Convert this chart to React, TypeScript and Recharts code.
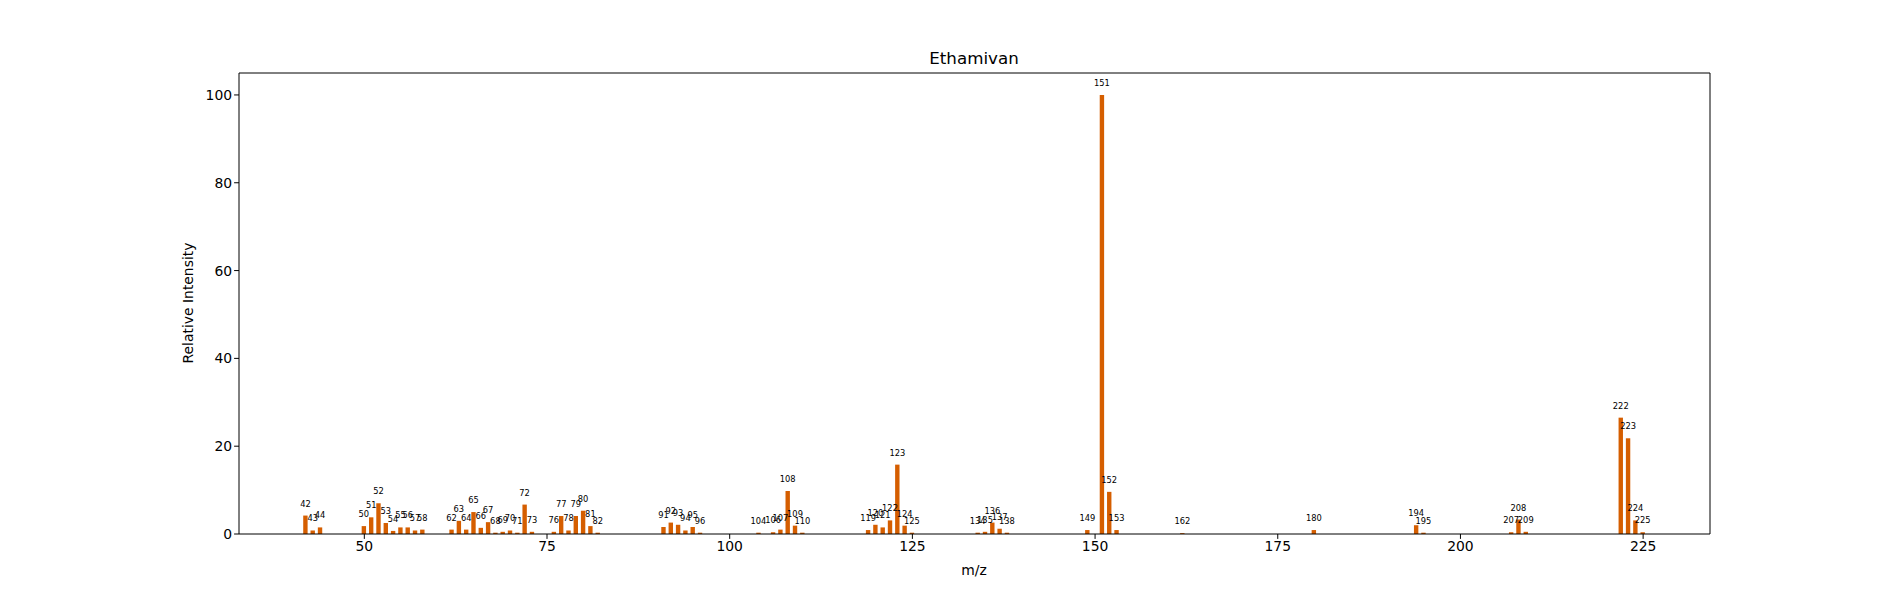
import { BarChart, Bar, XAxis, YAxis, LabelList, ReferenceLine } from 'recharts';

const mzValues = [
  42, 43, 44, 50, 51, 52, 53, 54, 55, 56, 57, 58, 62, 63, 64, 65, 66, 67, 68, 69, 70, 71, 72, 73,
  76, 77, 78, 79, 80, 81, 82, 91, 92, 93, 94, 95, 96, 104, 106, 107, 108, 109, 110,
  119, 120, 121, 122, 123, 124, 125, 134, 135, 136, 137, 138, 149, 151, 152, 153, 162,
  180, 194, 195, 207, 208, 209, 222, 223, 224, 225,
];
const intensities = [
  4.2, 0.8, 1.5, 1.8, 3.8, 7.0, 2.5, 0.7, 1.5, 1.5, 0.8, 1.0, 1.0, 3.0, 1.0, 5.0, 1.4, 2.7, 0.3, 0.5, 0.8, 0.3, 6.7, 0.5,
  0.5, 4.1, 0.8, 4.1, 5.3, 1.8, 0.3, 1.6, 2.6, 2.1, 0.8, 1.6, 0.3, 0.3, 0.4, 1.0, 9.8, 1.9, 0.3,
  0.9, 2.1, 1.5, 3.1, 15.8, 1.9, 0.3, 0.3, 0.5, 2.6, 1.2, 0.3, 0.9, 100, 9.6, 0.9, 0.2,
  0.9, 2.0, 0.3, 0.4, 3.3, 0.5, 26.5, 21.8, 3.1, 0.4,
];
const xTicks = [50, 75, 100, 125, 150, 175, 200, 225];
const yTicks = [0, 20, 40, 60, 80, 100];
const xDomain: [number, number] = [32.85, 234.15];
const yDomain: [number, number] = [0, 105];

const data = mzValues.map((mz, i) => ({ mz, intensity: intensities[i] }));

const font = 'DejaVu Sans, sans-serif';
const color = '#d55e00';

export default function App() {
  return (
    <div style={{ position: 'absolute', left: 0, top: 0, fontFamily: font }}>
      <BarChart
        width={1900}
        height={600}
        data={data}
        margin={{ top: 73, right: 190, left: 179, bottom: 30 }}
      >
        <text x={974} y={64} textAnchor="middle" fontSize={16.7} fill="#000" fontFamily={font}>
          Ethamivan
        </text>
        <text
          x={193}
          y={303}
          textAnchor="middle"
          fontSize={13.9}
          fill="#000"
          fontFamily={font}
          transform="rotate(-90 193 303)"
        >
          Relative Intensity
        </text>
        <text x={974} y={575} textAnchor="middle" fontSize={13.9} fill="#000" fontFamily={font}>
          m/z
        </text>
        <XAxis
          dataKey="mz"
          type="number"
          domain={xDomain}
          ticks={xTicks}
          allowDataOverflow
          stroke="#000"
          tick={{ fill: '#000', fontSize: 13.9, fontFamily: font }}
          tickSize={4.9}
          height={36}
        />
        <YAxis
          domain={yDomain}
          ticks={yTicks}
          allowDataOverflow
          stroke="#000"
          tick={{ fill: '#000', fontSize: 13.9, fontFamily: font }}
          tickSize={4.9}
          width={60}
        />
        <ReferenceLine y={yDomain[1]} stroke="#000" strokeWidth={1} ifOverflow="visible" />
        <ReferenceLine x={xDomain[1]} stroke="#000" strokeWidth={1} ifOverflow="visible" />
        <Bar dataKey="intensity" fill={color} barSize={4.4} isAnimationActive={false}>
          <LabelList dataKey="mz" position="top" offset={9} fontSize={8.3} fill="#000" fontFamily={font} />
        </Bar>
      </BarChart>
    </div>
  );
}
